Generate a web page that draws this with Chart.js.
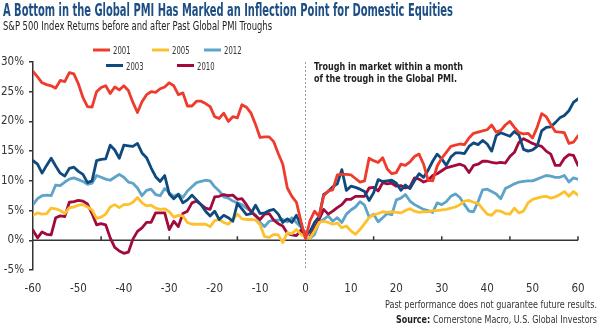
<!DOCTYPE html>
<html>
<head>
<meta charset="utf-8">
<script src="https://cdn.jsdelivr.net/npm/chart.js@4.4.1/dist/chart.umd.min.js"></script>
<style>
  html, body { margin: 0; padding: 0; background: #fff; }
</style>
</head>
<body>
<canvas id="myChart" width="600" height="328"></canvas>
<script>
// months before (-) and after (+) the PMI trough
const months = [];
for (let m = -60; m <= 60; m++) months.push(m);

const r2001 = [
  28.4, 27.5, 26.5, 26.2, 26.0, 25.6, 26.9, 26.7, 28.2, 28.0,
  26.3, 24.0, 22.5, 22.4, 25.0, 25.7, 26.0, 24.7, 25.8, 25.3,
  26.0, 25.2, 23.2, 21.5, 23.3, 24.5, 25.0, 24.9, 25.5, 25.8,
  26.5, 26.0, 24.5, 24.8, 22.6, 22.6, 23.4, 23.4, 23.0, 22.5,
  20.8, 20.5, 21.4, 20.0, 20.8, 20.6, 22.8, 22.4, 21.4, 19.5,
  17.3, 17.4, 17.4, 16.6, 14.6, 12.8, 8.8, 7.4, 6.4, 3.2,
  0.3, 3.3, 4.9, 4.0, 7.5, 8.3, 8.5, 11.0, 11.1, 11.1,
  11.0, 10.4, 9.8, 10.0, 13.8, 13.4, 13.1, 13.9, 12.0, 11.2,
  11.4, 12.8, 12.6, 13.2, 14.1, 14.5, 12.8, 10.1, 10.0, 12.5,
  13.8, 14.8, 15.8, 16.0, 16.2, 16.1, 17.2, 18.0, 18.2, 18.4,
  18.6, 19.4, 18.2, 18.5, 19.4, 20.0, 19.0, 18.1, 17.9, 18.0,
  17.2, 19.0, 21.3, 20.8, 19.5, 18.3, 18.2, 18.1, 16.3, 16.5,
  17.6
];

const r2003 = [
  13.4, 12.8, 11.3, 12.6, 13.8, 12.5, 11.3, 10.8, 12.1, 12.3,
  11.6, 11.1, 9.7, 10.0, 13.4, 13.6, 13.7, 16.0, 15.2, 13.8,
  16.0, 15.9, 15.8, 16.3, 14.7, 13.9, 12.2, 10.7, 9.9, 10.9,
  7.8, 7.0, 7.7, 6.3, 6.8, 7.6, 6.8, 6.0, 4.9, 4.1,
  4.9, 3.5, 4.2, 3.8, 3.2, 6.2, 5.3, 4.3, 4.5, 5.9,
  4.5, 4.6, 5.0, 5.2, 4.4, 3.0, 3.6, 3.0, 4.2, 2.5,
  0.8, 1.5, 3.0, 4.0, 7.7, 8.2, 9.0, 9.5, 11.9, 8.4,
  9.1, 8.9, 8.6, 8.2, 6.7, 8.0, 10.2, 9.9, 10.0, 10.1,
  9.6, 8.4, 9.3, 8.7, 10.0, 11.2, 10.6, 11.8, 13.3, 14.5,
  13.7, 12.6, 14.0, 14.7, 14.7, 14.6, 15.8, 16.4, 16.1, 16.8,
  16.2, 15.0, 17.6, 18.1, 17.8, 17.5, 18.3, 17.7, 15.3, 15.0,
  15.2, 15.8, 18.4, 19.0, 19.1, 19.8, 20.6, 21.0, 21.8, 23.2,
  23.8
];

const r2005 = [
  4.2, 4.6, 4.4, 4.5, 5.4, 5.3, 5.0, 4.5, 5.5, 5.6,
  5.9, 6.0, 5.6, 5.1, 3.7, 3.9, 4.4, 5.6, 6.0, 5.5,
  6.0, 6.0, 6.4, 7.2, 6.3, 5.8, 5.9, 5.4, 5.2, 5.3,
  4.8, 3.9, 4.2, 4.1, 3.0, 2.7, 2.7, 2.7, 2.7, 2.3,
  3.3, 3.5, 3.0, 2.7, 3.5, 4.4, 3.6, 3.5, 3.5, 3.4,
  2.6, 0.6, 0.5, 1.0, 0.9, -0.4, 1.3, 1.1, 1.8, 1.0,
  0.6, 0.4, 1.6, 3.0, 3.2, 3.0, 2.7, 2.9, 2.1, 2.4,
  1.6, 1.0, 1.8, 2.8, 3.8, 4.3, 4.5, 4.8, 4.7, 4.8,
  4.7, 4.6, 5.0, 5.3, 4.9, 4.7, 4.8, 4.8, 5.0, 5.0,
  5.1, 5.2, 5.4, 5.6, 6.0, 6.6, 6.7, 6.4, 6.2, 5.3,
  4.4, 4.2, 5.0, 4.9, 4.5, 4.4, 5.4, 4.6, 4.9, 6.3,
  6.9, 7.1, 7.3, 7.4, 7.1, 7.3, 7.7, 8.2, 7.4, 8.2,
  7.6
];

const r2010 = [
  1.7, 0.4, 1.4, 1.0, 0.9, 3.8, 4.1, 4.0, 6.4, 6.5,
  6.7, 6.6, 6.1, 4.5, 2.6, 2.8, 2.6, 0.4, -1.2, -1.8,
  -2.2, -2.0, 0.2, 1.5, 2.1, 3.0, 3.0, 4.6, 4.6, 4.6,
  1.8, 3.2, 2.3, 4.5, 4.9, 6.3, 6.6, 6.0, 5.4, 5.2,
  7.3, 7.4, 7.7, 7.5, 7.6, 6.9, 7.0, 6.0, 4.8, 4.1,
  3.5, 4.4, 4.5, 3.4, 2.8, 2.4, 1.2, 0.9, 0.8, 1.7,
  0.5, 0.6, 2.1, 3.5, 5.2, 4.4, 4.9, 5.5, 6.0, 6.9,
  6.9, 7.4, 7.4, 7.4, 8.8, 8.9, 8.3, 9.7, 9.5, 9.6,
  9.1, 9.2, 8.8, 9.0, 10.5, 10.3, 9.8, 10.1, 10.9, 11.2,
  11.7, 12.2, 12.4, 12.6, 12.8, 12.5, 11.4, 12.6, 12.8, 13.3,
  13.3, 13.1, 13.0, 13.1, 13.0, 14.1, 14.8, 16.5, 17.1, 16.7,
  16.3, 16.0, 15.8, 15.0, 14.5, 12.6, 12.6, 13.8, 14.4, 14.3,
  12.6
];

const r2012 = [
  6.0, 7.0, 7.5, 7.6, 7.5, 9.3, 9.2, 9.8, 10.3, 10.5,
  10.2, 9.9, 9.4, 9.6, 10.9, 10.6, 10.3, 10.1, 10.6, 11.1,
  10.6, 9.8, 9.6, 8.8, 7.5, 8.4, 8.6, 7.7, 7.5, 8.7,
  8.0, 7.4, 7.8, 7.2, 8.3, 9.0, 9.7, 9.9, 10.1, 10.0,
  9.0, 8.3, 7.3, 7.1, 6.6, 6.3, 6.0, 5.4, 4.9, 4.3,
  3.0, 2.3, 3.2, 3.4, 3.4, 3.5, 3.1, 3.8, 3.0, 2.2,
  0.6, 0.3, 1.0, 3.0, 3.5, 4.1, 3.2, 3.8, 3.0, 4.4,
  5.1, 5.6, 6.5, 5.9, 3.9, 4.4, 3.1, 3.8, 4.5, 4.3,
  6.8, 7.1, 7.7, 6.6, 6.0, 5.6, 5.2, 5.0, 4.7, 6.3,
  6.0, 6.5, 7.4, 7.8, 7.2, 6.0, 4.9, 4.8, 6.5, 8.5,
  8.6, 8.2, 7.8, 7.0, 8.7, 9.1, 9.5, 9.8, 9.9, 10.0,
  10.0, 10.3, 10.6, 10.9, 10.8, 10.6, 10.6, 10.9, 9.8, 10.5,
  10.3
];

const xTickValues = [-60, -50, -40, -30, -20, -10, 0, 10, 20, 30, 40, 50, 60];
const yTickValues = [-5, 0, 5, 10, 15, 20, 25, 30];
const zeroLineMarks = [-45, -30, -15, 15, 30, 45, 60];

const FONT = "'Liberation Sans Narrow', 'DejaVu Sans Condensed', Roboto, sans-serif";
const AXIS = '#333333';

function series(label, values, color) {
  return {
    label: label,
    data: months.map((m, i) => ({ x: m, y: values[i] })),
    borderColor: color,
    backgroundColor: color,
    borderWidth: 2.8,
    pointRadius: 0,
    tension: 0,
    borderJoinStyle: 'round',
    borderCapStyle: 'round'
  };
}

// draws a run of text squeezed/stretched to a given width
function fitText(ctx, runs, x, y, width, align) {
  let total = 0;
  runs.forEach(r => { ctx.font = r.font; r.w = ctx.measureText(r.text).width; total += r.w; });
  const s = width / total;
  ctx.save();
  ctx.translate(align === 'right' ? x - width : x, y);
  ctx.scale(s, 1);
  ctx.textAlign = 'left';
  ctx.textBaseline = 'alphabetic';
  let cx = 0;
  runs.forEach(r => {
    ctx.font = r.font;
    ctx.fillStyle = r.color;
    ctx.fillText(r.text, cx, 0);
    cx += r.w;
  });
  ctx.restore();
}

const guides = {
  id: 'guides',
  beforeDatasetsDraw(chart) {
    const ctx = chart.ctx;
    const xs = chart.scales.x, ys = chart.scales.y;
    const y0 = ys.getPixelForValue(0);
    ctx.save();
    // dashed line at the trough
    ctx.strokeStyle = '#9a9a9a';
    ctx.lineWidth = 1;
    ctx.setLineDash([2, 2]);
    ctx.beginPath();
    ctx.moveTo(xs.getPixelForValue(0), ys.top);
    ctx.lineTo(xs.getPixelForValue(0), ys.bottom);
    ctx.stroke();
    ctx.setLineDash([]);
    // zero line with small marks
    ctx.strokeStyle = AXIS;
    ctx.lineWidth = 1.5;
    ctx.beginPath();
    ctx.moveTo(xs.left, y0);
    ctx.lineTo(xs.right, y0);
    zeroLineMarks.forEach(v => {
      const px = xs.getPixelForValue(v);
      ctx.moveTo(px, y0);
      ctx.lineTo(px, y0 - 4);
    });
    ctx.stroke();
    ctx.restore();
  },
  afterDraw(chart) {
    const ctx = chart.ctx;
    fitText(ctx, [{ text: 'A Bottom in the Global PMI Has Marked an Inflection Point for Domestic Equities', font: 'bold 17px ' + FONT, color: '#1d4e84' }], 3, 15.5, 450);
    fitText(ctx, [{ text: 'S&P 500 Index Returns before and after Past Global PMI Troughs', font: '13px ' + FONT, color: '#222' }], 3, 30, 269);

    // legend
    const items = [
      [0, 93, 50], [2, 152, 50], [4, 204, 50],
      [1, 106, 65.5], [3, 177, 65.5]
    ];
    items.forEach(([i, lx, ly]) => {
      const ds = chart.data.datasets[i];
      ctx.save();
      ctx.strokeStyle = ds.borderColor;
      ctx.lineWidth = 3;
      ctx.beginPath();
      ctx.moveTo(lx, ly);
      ctx.lineTo(lx + 17, ly);
      ctx.stroke();
      ctx.restore();
      fitText(ctx, [{ text: ds.label, font: '11px ' + FONT, color: '#333' }], lx + 20, ly + 4, 17.5);
    });

    fitText(ctx, [{ text: 'Trough in market within a month', font: 'bold 11px ' + FONT, color: '#222' }], 314, 69.5, 149);
    fitText(ctx, [{ text: 'of the trough in the Global PMI.', font: 'bold 11px ' + FONT, color: '#222' }], 314, 82, 143);

    fitText(ctx, [{ text: 'Past performance does not guarantee future results.', font: '11px ' + FONT, color: '#333' }], 597, 308, 212, 'right');
    fitText(ctx, [
      { text: 'Source: ', font: 'bold 11px ' + FONT, color: '#222' },
      { text: 'Cornerstone Macro, U.S. Global Investors', font: '11px ' + FONT, color: '#333' }
    ], 597, 323, 201, 'right');
  }
};

const ctx = document.getElementById('myChart');

const myChart = new Chart(ctx, {
  type: 'line',
  data: {
    datasets: [
      series('2001', r2001, '#ee3b2b'),
      series('2003', r2003, '#0f4a7e'),
      series('2005', r2005, '#fcc12d'),
      series('2010', r2010, '#a20a3c'),
      series('2012', r2012, '#5ea3c8')
    ]
  },
  options: {
    responsive: false,
    animation: false,
    devicePixelRatio: 1,
    layout: { padding: { left: 0, right: 22, top: 62, bottom: 0 } },
    plugins: {
      legend: { display: false },
      tooltip: { enabled: false }
    },
    scales: {
      x: {
        type: 'linear',
        min: -60,
        max: 60,
        afterBuildTicks: (scale) => { scale.ticks = xTickValues.map(v => ({ value: v })); },
        afterFit: (scale) => { scale.height = 58; },
        grid: { display: false, drawTicks: false },
        border: { display: false },
        ticks: {
          padding: 12,
          color: AXIS,
          font: { family: FONT, size: 11.5 },
          maxRotation: 0,
          autoSkip: false
        }
      },
      y: {
        min: -5,
        max: 30,
        afterBuildTicks: (scale) => { scale.ticks = yTickValues.map(v => ({ value: v })); },
        afterFit: (scale) => { scale.width = 33; },
        grid: {
          drawOnChartArea: false,
          drawTicks: true,
          tickLength: 4,
          color: AXIS,
          lineWidth: 1.5
        },
        border: { display: true, color: AXIS, width: 1.5 },
        ticks: {
          padding: 5,
          color: AXIS,
          font: { family: FONT, size: 11.5 },
          callback: (v) => v + '%'
        }
      }
    }
  },
  plugins: [guides]
});
</script>
</body>
</html>
